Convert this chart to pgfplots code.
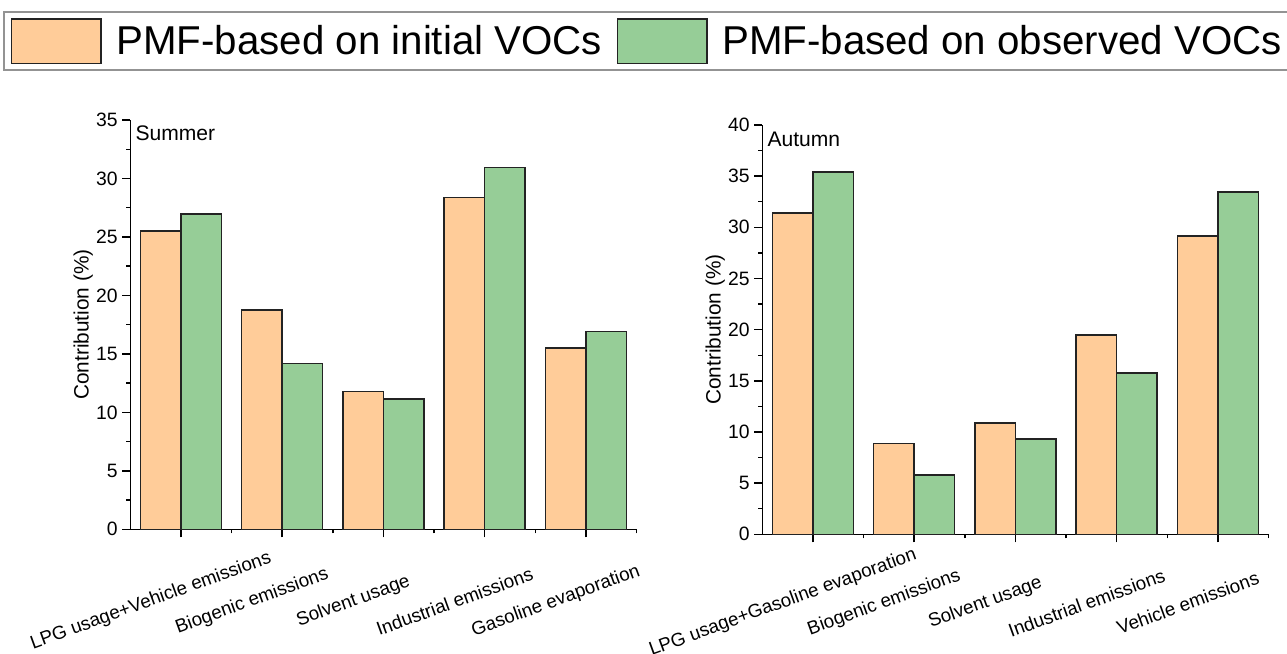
\documentclass[border=0pt]{standalone}
\usepackage{fontspec}
\setmainfont{Liberation Sans}
\usepackage{pgfplots}
\usepackage{pgfplotstable}
\pgfplotsset{compat=1.18}

\definecolor{barorange}{RGB}{255,204,153}
\definecolor{bargreen}{RGB}{150,205,151}
\definecolor{baredge}{RGB}{35,35,35}

% Source contributions (%) per season
\pgfplotstableread{
x initial observed
0 25.53 26.94
1 18.75 14.19
2 11.80 11.12
3 28.36 30.95
4 15.48 16.90
}\summer

\pgfplotstableread{
x initial observed
0 31.43 35.38
1 8.89 5.80
2 10.85 9.34
3 19.48 15.79
4 29.18 33.45
}\autumn

\tikzset{season/.style={anchor=north west, inner sep=0pt,
    font=\fontsize{15.8}{18}\selectfont}}

\pgfplotsset{
  panel/.style={
    scale only axis,
    width=379.65pt, height=306.975pt,
    anchor=south west,
    axis x line*=bottom, axis y line*=left,
    axis line style={-, line width=1.1pt, black},
    xmin=-0.5, xmax=4.5, ymin=0,
    xtick={0,1,2,3,4},
    minor xtick={0.5,1.5,2.5,3.5,4.5},
    ytick distance=5, minor y tick num=1,
    tick align=outside,
    major tick length=6pt, minor tick length=3pt,
    every tick/.style={line width=1.1pt, black},
    /pgf/number format/assume math mode=true,
    yticklabel style={font=\fontsize{14.5}{17}\selectfont},
    catlabels/.style={xticklabel style={font=\fontsize{14.1}{17}\selectfont,
      xshift=-22.5pt, yshift=##1, rotate=20, anchor=center}},
    ylabel={Contribution (\%)},
    every axis y label/.style={at={(axis description cs:-0.0929,0.5)},
      rotate=90, anchor=center, font=\fontsize{15.6}{18}\selectfont},
    ybar=0pt, bar width=0.4,
    clip=false,
  },
  initbar/.style={fill=barorange, draw=baredge, line width=1.2pt, bar shift=-0.2},
  obsbar/.style={fill=bargreen, draw=baredge, line width=1.2pt, bar shift=0.2},
}

\begin{document}
\begin{tikzpicture}
\useasboundingbox (0pt,0pt) rectangle (965.25pt,-489.75pt);

\begin{axis}[panel, catlabels=-48pt,
  at={(97.725pt,-396.975pt)},
  ymax=35,
  xticklabels={LPG usage+Vehicle emissions, Biogenic emissions,
    Solvent usage, Industrial emissions, Gasoline evaporation},
  legend columns=2,
  legend style={at={(rel axis cs:1.0195,1.1925)}, anchor=center,
    draw=gray!85, line width=1.5pt,
    inner xsep=5pt, inner ysep=4.5pt,
    column sep=11pt,
    font=\fontsize{30.2}{34}\selectfont,
    nodes={inner sep=0pt}},
  legend image code/.code={%
    \draw[#1, line width=1.1pt] (0pt,-16.75pt) rectangle (67pt,16.75pt);},
]
\addplot[initbar] table[x=x, y=initial] {\summer};
\addlegendentry{PMF-based on initial VOCs}
\addplot[obsbar] table[x=x, y=observed] {\summer};
\addlegendentry{PMF-based on observed VOCs}
\node[season] at (rel axis cs:0,1) [xshift=3.75pt, yshift=-4pt] {Summer};
\end{axis}

\begin{axis}[panel, catlabels=-45.5pt,
  at={(571.725pt,-400.725pt)},
  ymax=40,
  xticklabels={LPG usage+Gasoline evaporation, Biogenic emissions,
    Solvent usage, Industrial emissions, Vehicle emissions},
]
\addplot[initbar] table[x=x, y=initial] {\autumn};
\addplot[obsbar] table[x=x, y=observed] {\autumn};
\node[season] at (rel axis cs:0,1) [xshift=3.75pt, yshift=-5pt] {Autumn};
\end{axis}
\end{tikzpicture}
\end{document}
